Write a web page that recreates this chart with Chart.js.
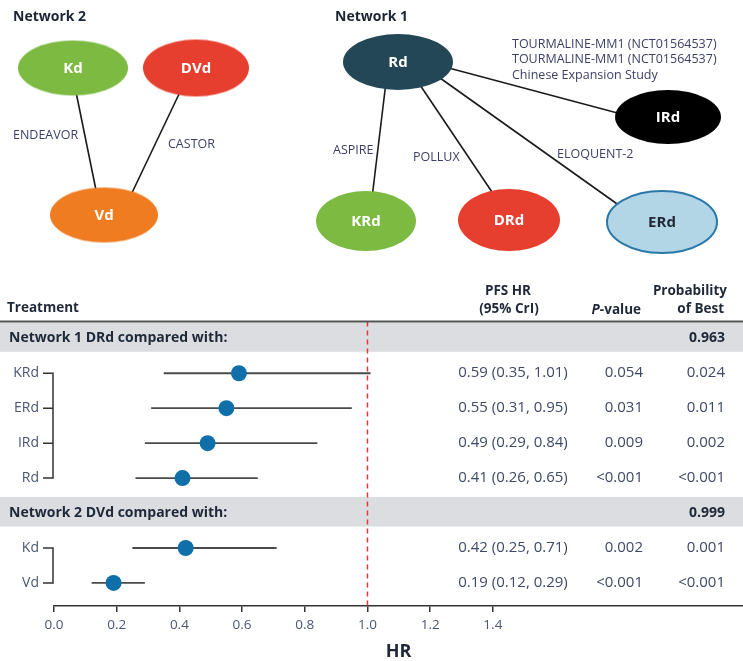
<!DOCTYPE html>
<html lang="en">
<head>
    <meta charset="UTF-8">
    <title>Network meta-analysis – PFS HR</title>
    <script src="https://cdn.jsdelivr.net/npm/chart.js@4"></script>
    <style>
        body {
            margin: 0;
            background: #ffffff;
        }
        #wrap {
            width: 743px;
            height: 661px;
        }
        canvas {
            display: block;
        }
    </style>
</head>
<body>
    <div id="wrap">
        <canvas id="networkChart" width="743" height="270"></canvas>
        <canvas id="forestChart" width="743" height="391"></canvas>
    </div>

    <script>
        // ---- forest plot data ----
        const networkHeaders = ['Network 1 DRd compared with:', 'Network 2 DVd compared with:'];
        const networkBest = ['0.963', '0.999'];
        const treatments = ['KRd', 'ERd', 'IRd', 'Rd', 'Kd', 'Vd'];
        const treatmentNetwork = [0, 0, 0, 0, 1, 1];
        const hr = [0.59, 0.55, 0.49, 0.41, 0.42, 0.19];
        const hrLow = [0.35, 0.31, 0.29, 0.26, 0.25, 0.12];
        const hrHigh = [1.01, 0.95, 0.84, 0.65, 0.71, 0.29];
        const pValues = ['0.054', '0.031', '0.009', '<0.001', '0.002', '<0.001'];
        const probBest = ['0.024', '0.011', '0.002', '<0.001', '0.001', '<0.001'];
        const xTickValues = [0, 0.2, 0.4, 0.6, 0.8, 1.0, 1.2, 1.4];

        // ---- network diagram data ----
        const nodeNames = ['Kd', 'DVd', 'Vd', 'Rd', 'IRd', 'KRd', 'DRd', 'ERd'];
        const edges = [['Kd', 'Vd'], ['DVd', 'Vd'], ['Rd', 'IRd'], ['Rd', 'KRd'], ['Rd', 'DRd'], ['Rd', 'ERd']];
        const edgeLabels = [
            ['ENDEAVOR'],
            ['CASTOR'],
            ['TOURMALINE-MM1 (NCT01564537)', 'TOURMALINE-MM1 (NCT01564537)', 'Chinese Expansion Study'],
            ['ASPIRE'],
            ['POLLUX'],
            ['ELOQUENT-2']
        ];
        const networkTitles = ['Network 2', 'Network 1'];

        // ---- layout (positions / styles) ----
        const nodeLayout = {
            Kd:  { x: 73,  y: 68,  rx: 55, ry: 27.5, fill: '#7cba42', text: '#ffffff' },
            DVd: { x: 196, y: 68,  rx: 53, ry: 28.5, fill: '#e63e2f', text: '#ffffff' },
            Vd:  { x: 104, y: 215, rx: 54, ry: 27.5, fill: '#f07c22', text: '#ffffff' },
            Rd:  { x: 398, y: 62,  rx: 55, ry: 28,   fill: '#234756', text: '#ffffff' },
            IRd: { x: 668, y: 117, rx: 53, ry: 27,   fill: '#000000', text: '#ffffff' },
            KRd: { x: 366, y: 221, rx: 50, ry: 30,   fill: '#7cba42', text: '#ffffff' },
            DRd: { x: 509, y: 220, rx: 51, ry: 31,   fill: '#e63e2f', text: '#ffffff' },
            ERd: { x: 662, y: 222, rx: 55, ry: 31,   fill: '#b3d6e6', stroke: '#2a78a8', text: '#1d2736' }
        };
        const edgeEnds = [
            [76, 92, 97, 195],
            [180, 92, 130, 197],
            [445, 67, 625, 115],
            [386, 82, 372, 198],
            [418, 82, 496, 198],
            [440, 78, 620, 206]
        ];
        const edgeLabelPos = [[13, 135], [168, 144], [512, 44], [333, 150], [413, 157], [557, 154]];
        const titlePos = [[13, 17], [335, 17]];

        Chart.defaults.font.family = "'Open Sans', sans-serif";
        Chart.defaults.color = '#46506c';

        // ---------------- network diagram ----------------
        function ellipseImage(n) {
            const c = document.createElement('canvas');
            c.width = Math.round(n.rx * 2 + 4);
            c.height = Math.round(n.ry * 2 + 4);
            const g = c.getContext('2d');
            g.beginPath();
            g.ellipse(c.width / 2, c.height / 2, n.rx, n.ry, 0, 0, Math.PI * 2);
            g.fillStyle = n.fill;
            g.fill();
            if (n.stroke) {
                g.lineWidth = 2;
                g.strokeStyle = n.stroke;
                g.stroke();
            }
            return c;
        }

        const edgeDatasets = edges.map((e, i) => ({
            type: 'line',
            data: [{ x: edgeEnds[i][0], y: edgeEnds[i][1] }, { x: edgeEnds[i][2], y: edgeEnds[i][3] }],
            borderColor: '#1a1a1a',
            borderWidth: 1.6,
            pointRadius: 0,
            order: 2
        }));

        const nodeDataset = {
            type: 'scatter',
            data: nodeNames.map(n => ({ x: nodeLayout[n].x, y: nodeLayout[n].y })),
            pointStyle: nodeNames.map(n => ellipseImage(nodeLayout[n])),
            pointRadius: 20,
            clip: false,
            order: 1
        };

        const networkText = {
            id: 'networkText',
            afterDatasetsDraw(chart) {
                const { ctx, scales: { x, y } } = chart;
                ctx.save();
                ctx.textBaseline = 'middle';

                // titles
                ctx.font = "bold 14px 'Open Sans'";
                ctx.fillStyle = '#1b2433';
                ctx.textAlign = 'left';
                networkTitles.forEach((t, i) => {
                    ctx.fillText(t, x.getPixelForValue(titlePos[i][0]), y.getPixelForValue(titlePos[i][1]));
                });

                // node names
                ctx.font = "bold 15px 'Open Sans'";
                ctx.textAlign = 'center';
                nodeNames.forEach(n => {
                    const l = nodeLayout[n];
                    ctx.fillStyle = l.text;
                    ctx.fillText(n, x.getPixelForValue(l.x), y.getPixelForValue(l.y + 1));
                });

                // trial names
                ctx.font = "12.5px 'Open Sans'";
                ctx.fillStyle = '#3b3f66';
                ctx.textAlign = 'left';
                edgeLabels.forEach((lines, i) => {
                    lines.forEach((t, k) => {
                        ctx.fillText(t, x.getPixelForValue(edgeLabelPos[i][0]),
                            y.getPixelForValue(edgeLabelPos[i][1] + k * 15.5));
                    });
                });
                ctx.restore();
            }
        };

        new Chart(document.getElementById('networkChart'), {
            type: 'scatter',
            data: { datasets: [...edgeDatasets, nodeDataset] },
            options: {
                responsive: false,
                animation: false,
                events: [],
                layout: { padding: 0, autoPadding: false },
                plugins: { legend: { display: false }, tooltip: { enabled: false } },
                scales: {
                    x: { type: 'linear', min: 0, max: 743, display: false },
                    y: { type: 'linear', min: 0, max: 270, reverse: true, display: false }
                }
            },
            plugins: [networkText]
        });

        // ---------------- forest plot ----------------
        // row index: network header rows, then treatments under each
        const headerRows = [];
        const treatmentRows = [];
        let row = 0;
        networkHeaders.forEach((h, n) => {
            headerRows.push(row++);
            treatments.forEach((t, i) => {
                if (treatmentNetwork[i] === n) treatmentRows[i] = row++;
            });
        });

        const yMin = -0.48;
        const yMax = 7.66;

        const ciDatasets = treatments.map((t, i) => ({
            type: 'line',
            data: [{ x: hrLow[i], y: treatmentRows[i] }, { x: hrHigh[i], y: treatmentRows[i] }],
            borderColor: '#4a4a4a',
            borderWidth: 1.8,
            pointRadius: 0,
            clip: false,
            order: 3
        }));

        const refLine = {
            type: 'line',
            data: [{ x: 1, y: yMin }, { x: 1, y: yMax }],
            borderColor: '#e8373a',
            borderWidth: 1.5,
            borderDash: [5, 4],
            pointRadius: 0,
            order: 2
        };

        const pointDataset = {
            type: 'scatter',
            data: treatments.map((t, i) => ({ x: hr[i], y: treatmentRows[i] })),
            backgroundColor: '#0f6fa8',
            borderWidth: 0,
            pointRadius: 8,
            clip: false,
            order: 1
        };

        const forestText = {
            id: 'forestText',
            beforeDatasetsDraw(chart) {
                const { ctx, scales: { y } } = chart;
                ctx.save();
                ctx.fillStyle = '#dcdde0';
                headerRows.forEach(r => {
                    const py = y.getPixelForValue(r);
                    ctx.fillRect(0, py - 16, chart.width, 29.5);
                });
                ctx.restore();
            },
            afterDraw(chart) {
                const { ctx, chartArea, scales: { y } } = chart;
                ctx.save();
                ctx.textBaseline = 'middle';

                // column headers
                ctx.fillStyle = '#1e2838';
                ctx.font = "bold 13.5px 'Open Sans'";
                ctx.textAlign = 'left';
                ctx.fillText('Treatment', 7, 38);
                ctx.textAlign = 'center';
                ctx.fillText('PFS HR', 508, 21);
                ctx.fillText('(95% CrI)', 509, 39);
                ctx.textAlign = 'right';
                ctx.fillText('-value', 641, 40);
                const w = ctx.measureText('-value').width;
                ctx.font = "italic bold 13.5px 'Open Sans'";
                ctx.fillText('P', 641 - w, 40);
                ctx.font = "bold 13.5px 'Open Sans'";
                ctx.fillText('Probability', 727, 21);
                ctx.fillText('of Best', 724, 39);

                // rule under header
                ctx.strokeStyle = '#555555';
                ctx.lineWidth = 2;
                ctx.beginPath();
                ctx.moveTo(0, chartArea.top);
                ctx.lineTo(chart.width, chartArea.top);
                ctx.stroke();

                // network header rows
                ctx.font = "bold 14px 'Open Sans'";
                ctx.fillStyle = '#1e2838';
                headerRows.forEach((r, n) => {
                    const py = y.getPixelForValue(r);
                    ctx.textAlign = 'left';
                    ctx.fillText(networkHeaders[n], 9, py);
                    ctx.textAlign = 'right';
                    ctx.fillText(networkBest[n], 725, py);
                });

                // treatment rows
                const left = chartArea.left;
                treatments.forEach((t, i) => {
                    const py = y.getPixelForValue(treatmentRows[i]);
                    ctx.font = "14px 'Open Sans'";
                    ctx.fillStyle = '#4a5572';
                    ctx.textAlign = 'right';
                    ctx.fillText(t, left - 15, py);

                    ctx.font = "15px 'Open Sans'";
                    ctx.fillStyle = '#3f4966';
                    ctx.textAlign = 'center';
                    ctx.fillText(hr[i].toFixed(2) + ' (' + hrLow[i].toFixed(2) + ', ' + hrHigh[i].toFixed(2) + ')', 513, py);
                    ctx.textAlign = 'right';
                    ctx.fillText(pValues[i], 643, py);
                    ctx.fillText(probBest[i], 725, py);
                });

                // brackets joining each network's treatments
                ctx.strokeStyle = '#333333';
                ctx.lineWidth = 1.5;
                networkHeaders.forEach((h, n) => {
                    const ys = treatments.map((t, i) => i).filter(i => treatmentNetwork[i] === n)
                        .map(i => y.getPixelForValue(treatmentRows[i]));
                    ctx.beginPath();
                    ys.forEach(py => {
                        ctx.moveTo(left - 11, py);
                        ctx.lineTo(left - 1, py);
                    });
                    ctx.moveTo(left - 1, Math.min(...ys) - 0.75);
                    ctx.lineTo(left - 1, Math.max(...ys) + 0.75);
                    ctx.stroke();
                });
                ctx.restore();
            }
        };

        new Chart(document.getElementById('forestChart'), {
            type: 'scatter',
            data: { datasets: [...ciDatasets, refLine, pointDataset] },
            options: {
                responsive: false,
                animation: false,
                events: [],
                layout: { padding: { top: 51.5, left: 54, right: 0, bottom: 0 }, autoPadding: false },
                plugins: { legend: { display: false }, tooltip: { enabled: false } },
                scales: {
                    x: {
                        type: 'linear',
                        min: 0,
                        max: 2.198,
                        afterFit: s => { s.height = 55; },
                        afterBuildTicks: s => { s.ticks = xTickValues.map(v => ({ value: v })); },
                        ticks: {
                            autoSkip: false,
                            maxRotation: 0,
                            padding: 5,
                            color: '#4a5572',
                            font: { size: 13.5 },
                            callback: v => v.toFixed(1)
                        },
                        grid: {
                            drawOnChartArea: false,
                            drawTicks: true,
                            tickLength: 6,
                            color: '#333333',
                            lineWidth: 1.5
                        },
                        border: { display: true, color: '#333333', width: 1.5 },
                        title: {
                            display: true,
                            text: 'HR',
                            color: '#1e2838',
                            font: { size: 18, weight: 'bold', lineHeight: 1 },
                            padding: { top: 0, bottom: 0 }
                        }
                    },
                    y: { type: 'linear', min: yMin, max: yMax, reverse: true, display: false }
                }
            },
            plugins: [forestText]
        });
    </script>
</body>
</html>
